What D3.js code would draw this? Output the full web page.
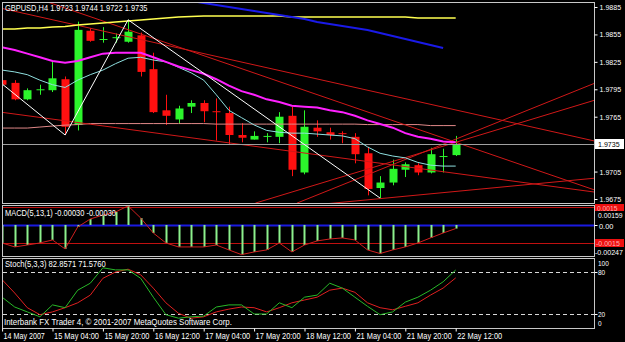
<!DOCTYPE html>
<html>
<head>
<meta charset="utf-8">
<script src="https://cdn.jsdelivr.net/npm/d3@7"></script>
<style>
body { margin: 0; background: #000; }
svg { display: block; font-family: "Liberation Sans", Arial, sans-serif; }
</style>
</head>
<body>
<svg id="chart" width="625" height="342"></svg>
<script>
// GBPUSD H4 candles, 14 May 12:00 .. 22 May 12:00
var opens  = [1.9805,1.9802,1.9784,1.9794,1.9794,1.9806,1.9756,1.9859,1.9849,1.9851,1.9847,1.9854,1.9817,1.9772,1.9762,1.9776,1.9780,1.9771,1.9769,1.9745,1.9740,1.9743,1.9743,1.9766,1.9704,1.9753,1.9748,1.9747,1.9743,1.9725,1.9687,1.9693,1.9707,1.9712,1.9704,1.9721,1.9723];
var highs  = [1.9807,1.9805,1.9796,1.9800,1.9825,1.9809,1.9869,1.9862,1.9863,1.9856,1.9871,1.9857,1.9835,1.9789,1.9777,1.9783,1.9783,1.9785,1.9776,1.9758,1.9749,1.9747,1.9770,1.9776,1.9772,1.9761,1.9753,1.9749,1.9747,1.9732,1.9700,1.9718,1.9715,1.9714,1.9731,1.9730,1.9744];
var lows   = [1.9797,1.9783,1.9783,1.9789,1.9792,1.9745,1.9750,1.9847,1.9846,1.9846,1.9846,1.9809,1.9769,1.9756,1.9757,1.9769,1.9759,1.9739,1.9734,1.9737,1.9740,1.9737,1.9736,1.9700,1.9702,1.9743,1.9740,1.9736,1.9714,1.9679,1.9676,1.9690,1.9699,1.9701,1.9703,1.9704,1.9722];
var closes = [1.9800,1.9784,1.9794,1.9795,1.9807,1.9754,1.9860,1.9848,1.9850,1.9852,1.9858,1.9814,1.9770,1.9766,1.9774,1.9780,1.9771,1.9770,1.9745,1.9742,1.9744,1.9744,1.9765,1.9707,1.9754,1.9749,1.9745,1.9746,1.9724,1.9686,1.9693,1.9708,1.9713,1.9704,1.9724,1.9722,1.9735];

// moving averages on the price window
var maYellow  = [1.98609,1.98609,1.98620,1.98620,1.98631,1.98636,1.98653,1.98664,1.98675,1.98686,1.98697,1.98708,1.98719,1.98730,1.98741,1.98746,1.98751,1.98751,1.98751,1.98751,1.98751,1.98751,1.98751,1.98741,1.98741,1.98741,1.98741,1.98741,1.98741,1.98741,1.98741,1.98741,1.98741,1.98730,1.98730,1.98730,1.98730];
var maBlueStart = 13;
var maBlue    = [1.99000,1.98938,1.98916,1.98894,1.98872,1.98850,1.98828,1.98806,1.98784,1.98762,1.98740,1.98719,1.98686,1.98664,1.98642,1.98620,1.98598,1.98565,1.98532,1.98500,1.98467,1.98434,1.98401];
var maMagenta = [1.9841,1.9838,1.9834,1.9830,1.9826,1.9824,1.9826,1.9830,1.9834,1.9835,1.9835,1.9835,1.9830,1.9825,1.9820,1.9816,1.9812,1.9806,1.9799,1.9793,1.9789,1.9784,1.9781,1.9777,1.9776,1.9775,1.9772,1.9770,1.9766,1.9761,1.9757,1.9753,1.9747,1.9743,1.9741,1.9738,1.9737];
var maCyan    = [1.9816,1.9814,1.9811,1.9805,1.9800,1.9797,1.9805,1.9811,1.9816,1.9823,1.9829,1.9830,1.9827,1.9825,1.9819,1.9813,1.9805,1.9789,1.9772,1.9764,1.9756,1.9750,1.9748,1.9747,1.9747,1.9746,1.9745,1.9744,1.9741,1.9732,1.9725,1.9722,1.9720,1.9715,1.9712,1.9711,1.9711];
var maPink    = [1.97526,1.97526,1.97526,1.97537,1.97548,1.97558,1.97564,1.97575,1.97575,1.97575,1.97575,1.97575,1.97575,1.97575,1.97575,1.97575,1.97575,1.97569,1.97569,1.97569,1.97569,1.97569,1.97569,1.97569,1.97569,1.97569,1.97569,1.97569,1.97569,1.97564,1.97564,1.97564,1.97564,1.97564,1.97553,1.97553,1.97553];

// zigzag turning points (bar index, price)
var zigzagIdx   = [-1, 5, 10, 30];
var zigzagPrice = [1.9812, 1.9745, 1.9871, 1.9676];

// drawn trend lines: [idx1, price1, idx2, price2]
var trendLines = [
  [-0.17, 1.98839, 47.06, 1.97383],
  [2.21, 1.98971, 47.06, 1.96847],
  [-0.17, 1.97701, 47.06, 1.96825],
  [23.4, 1.96705, 47.06, 1.98018],
  [20.1, 1.96705, 47.06, 1.97832],
  [23.6, 1.96670, 47.06, 1.96978]
];

var bidPrice = 1.9735;
var priceTicks = [1.9675, 1.9705, 1.9765, 1.9795, 1.9825, 1.9855, 1.9885];

// MACD(5,13,1)
var macdValues = [-0.0015,-0.00183,-0.00167,-0.0015,-0.00125,-0.002,-0.00017,0.0005,0.00083,0.00108,0.00159,0.00058,-0.00067,-0.0015,-0.00183,-0.00183,-0.00183,-0.00167,-0.00208,-0.00247,-0.00225,-0.00208,-0.0015,-0.00225,-0.00167,-0.00133,-0.00117,-0.00108,-0.00125,-0.00208,-0.00238,-0.00208,-0.00183,-0.0015,-0.00108,-0.00067,-0.0003];
var macdLevels = [0.0015, -0.0015];

// Stochastic(5,3,3)
var stochMain   = [44,30,23,16,33,29,54,64,86,83,83,71,44,19,14,16,17,30,33,33,20,20,36,29,44,47,64,57,44,31,19,23,37,44,54,66,82.8571];
var stochSignal = [69,50,29,19,23,29,36,47,71,80,84,76,57,36,21,14,16,23,27,30,29,23,29,36,40,44,54,57,51,36,29,26,31,36,47,57,71.576];
var stochLevels = [80, 20];
var stochTicks = [100, 80, 20, 0];

var timeIdx    = [0, 4, 8, 12, 16, 20, 24, 28, 32, 36];
var timeLabels = ["14 May 2007","15 May 04:00","15 May 20:00","16 May 12:00","17 May 04:00","17 May 20:00","18 May 12:00","21 May 04:00","21 May 20:00","22 May 12:00"];

var svg = d3.select('#chart');
svg.append('rect').attr('width', 625).attr('height', 342).attr('fill', 'black');

var x = d3.scaleLinear().domain([0, 36]).range([2.1, 455.7]);
var y = d3.scaleLinear().domain([1.9675, 1.9885]).range([199, 7]);
var yMacd = d3.scaleLinear().domain([-0.00247, 0.00159]).range([254.6, 205.9]);
var yStoch = d3.scaleLinear().domain([0, 100]).range([328, 258]);

var defs = svg.append('defs');
function clip(id, y0, h) {
  defs.append('clipPath').attr('id', id).append('rect')
    .attr('x', 3).attr('y', y0).attr('width', 591).attr('height', h);
}
clip('cMain', 3, 200);
clip('cMacd', 206, 50);
clip('cStoch', 259, 69);

// squeeze text to the narrow terminal font
function fit(sel, perChar) {
  sel.attr('textLength', function() { return this.textContent.length * perChar; })
    .attr('lengthAdjust', 'spacingAndGlyphs');
}

// ---- main window
var main = svg.append('g').attr('clip-path', 'url(#cMain)');

var candles = d3.range(opens.length).map(function(i) {
  return {i: i, o: opens[i], h: highs[i], l: lows[i], c: closes[i]};
});
function col(d) { return d.c >= d.o ? '#2cf52c' : '#ff1010'; }

main.selectAll('line.wick').data(candles).enter().append('line')
  .attr('x1', function(d) { return Math.round(x(d.i)) + 0.5; })
  .attr('x2', function(d) { return Math.round(x(d.i)) + 0.5; })
  .attr('y1', function(d) { return y(d.h); })
  .attr('y2', function(d) { return y(d.l); })
  .attr('stroke', col).attr('stroke-width', 1);

main.selectAll('rect.body').data(candles).enter().append('rect')
  .attr('x', function(d) { return Math.round(x(d.i)) - 3.5; })
  .attr('width', 8)
  .attr('y', function(d) { return y(Math.max(d.o, d.c)); })
  .attr('height', function(d) { return Math.max(1, Math.abs(y(d.o) - y(d.c))); })
  .attr('fill', col);

var line = d3.line().x(function(d) { return x(d[0]); }).y(function(d) { return y(d[1]); });
function series(vals, start) {
  return vals.map(function(v, k) { return [k + (start || 0), v]; });
}

main.append('path').attr('d', line(series(maPink))).attr('fill', 'none')
  .attr('stroke', '#e08888').attr('stroke-width', 1);

trendLines.forEach(function(t) {
  main.append('line')
    .attr('x1', x(t[0])).attr('y1', y(t[1]))
    .attr('x2', x(t[2])).attr('y2', y(t[3]))
    .attr('stroke', '#d01818').attr('stroke-width', 1);
});

main.append('line').attr('x1', 3).attr('x2', 594)
  .attr('y1', Math.round(y(bidPrice)) + 0.5).attr('y2', Math.round(y(bidPrice)) + 0.5)
  .attr('stroke', '#a0a0a0').attr('stroke-width', 1);

main.append('path').attr('d', line(series(maCyan))).attr('fill', 'none')
  .attr('stroke', '#8fe0e0').attr('stroke-width', 1);
main.append('path').attr('d', line(series(maMagenta))).attr('fill', 'none')
  .attr('stroke', '#ff20ff').attr('stroke-width', 2);
main.append('path').attr('d', line(series(maYellow))).attr('fill', 'none')
  .attr('stroke', '#ffff50').attr('stroke-width', 1.5);
main.append('path').attr('d', line(series(maBlue, maBlueStart))).attr('fill', 'none')
  .attr('stroke', '#1a1ae8').attr('stroke-width', 2);

main.append('path')
  .attr('d', line(zigzagIdx.map(function(d, k) { return [d, zigzagPrice[k]]; })))
  .attr('fill', 'none').attr('stroke', '#ffffff').attr('stroke-width', 1);

// ---- MACD window
var macd = svg.append('g').attr('clip-path', 'url(#cMacd)');
macdLevels.forEach(function(v) {
  macd.append('line').attr('x1', 3).attr('x2', 594)
    .attr('y1', Math.round(yMacd(v)) + 0.5).attr('y2', Math.round(yMacd(v)) + 0.5)
    .attr('stroke', '#c01010');
});
macd.append('line').attr('x1', 3).attr('x2', 594)
  .attr('y1', Math.round(yMacd(0)) + 0.5).attr('y2', Math.round(yMacd(0)) + 0.5)
  .attr('stroke', '#1a1ae0').attr('stroke-width', 2);
macd.selectAll('rect.hist').data(macdValues).enter().append('rect')
  .attr('x', function(d, i) { return Math.round(x(i)) - 0.5; })
  .attr('width', 2)
  .attr('y', function(d) { return Math.min(yMacd(0), yMacd(d)); })
  .attr('height', function(d) { return Math.abs(yMacd(0) - yMacd(d)); })
  .attr('fill', '#8cf08c');
macd.append('path')
  .attr('d', d3.line().x(function(d, i) { return x(i); }).y(function(d) { return yMacd(d); })(macdValues))
  .attr('fill', 'none').attr('stroke', '#d02020').attr('stroke-width', 1);

// ---- Stochastic window
var stoch = svg.append('g').attr('clip-path', 'url(#cStoch)');
stochLevels.forEach(function(v) {
  stoch.append('line').attr('x1', 3).attr('x2', 594)
    .attr('y1', Math.round(yStoch(v)) + 0.5).attr('y2', Math.round(yStoch(v)) + 0.5)
    .attr('stroke', '#d8d8d8').attr('stroke-dasharray', '4,3');
});
var sline = d3.line().x(function(d, i) { return x(i); }).y(function(d) { return yStoch(d); });
stoch.append('path').attr('d', sline(stochSignal)).attr('fill', 'none')
  .attr('stroke', '#e02020').attr('stroke-width', 1);
stoch.append('path').attr('d', sline(stochMain)).attr('fill', 'none')
  .attr('stroke', '#28b828').attr('stroke-width', 1);

// ---- window frames
[[2.5, 201], [205.5, 51], [258.5, 70]].forEach(function(f) {
  svg.append('rect').attr('x', 2.5).attr('y', f[0]).attr('width', 592).attr('height', f[1])
    .attr('fill', 'none').attr('stroke', '#c8c8c8').attr('stroke-width', 1);
});

var FS = 8;

// ---- price axis
var pAxis = svg.append('g').attr('transform', 'translate(594.5,0)')
  .call(d3.axisRight(y).tickValues(priceTicks).tickSize(3).tickFormat(d3.format('.4f')));
pAxis.select('.domain').remove();
pAxis.selectAll('line').attr('stroke', '#ffffff');
pAxis.selectAll('text').attr('fill', '#ffffff').attr('x', 5).attr('font-size', FS)
  .attr('font-family', '"Liberation Sans", Arial, sans-serif').call(fit, 3.6);

var bidY = Math.round(y(bidPrice));
svg.append('rect').attr('x', 595).attr('y', bidY - 5).attr('width', 29).attr('height', 10).attr('fill', '#ffffff');
svg.append('text').attr('x', 598).attr('y', bidY + 3).attr('font-size', FS).attr('fill', '#000')
  .text(d3.format('.4f')(bidPrice)).call(fit, 3.6);

// ---- MACD axis labels
svg.append('rect').attr('x', 595).attr('y', 204).attr('width', 29).attr('height', 7).attr('fill', '#ee1010');
svg.append('text').attr('x', 597).attr('y', 210.5).attr('font-size', 7).attr('fill', '#ffb0b0')
  .text('0.0015').call(fit, 3.4);
svg.append('text').attr('x', 598).attr('y', 218).attr('font-size', 7).attr('fill', '#fff')
  .text('0.00159').call(fit, 3.5);
svg.append('rect').attr('x', 595).attr('y', 239).attr('width', 29).attr('height', 8).attr('fill', '#ee1010');
svg.append('text').attr('x', 596).attr('y', 245.5).attr('font-size', 7).attr('fill', '#ffb0b0')
  .text('-0.0015').call(fit, 3.4);
svg.append('line').attr('x1', 594.5).attr('x2', 597.5).attr('y1', 225.5).attr('y2', 225.5).attr('stroke', '#fff');
svg.append('text').attr('x', 599).attr('y', 228.5).attr('font-size', FS).attr('fill', '#fff').text('0.00').call(fit, 3.6);
svg.append('text').attr('x', 595).attr('y', 255).attr('font-size', 7).attr('fill', '#fff').text('-0.00247').call(fit, 3.5);

// ---- Stoch axis labels
svg.selectAll('text.st').data(stochTicks).enter().append('text')
  .attr('x', 598)
  .attr('y', function(d) { return d === 100 ? 266 : d === 0 ? 326 : yStoch(d) + 3; })
  .attr('font-size', FS).attr('fill', '#fff')
  .text(function(d) { return d; }).call(fit, 3.6);
stochLevels.forEach(function(v) {
  svg.append('line').attr('x1', 594.5).attr('x2', 597.5)
    .attr('y1', Math.round(yStoch(v)) + 0.5).attr('y2', Math.round(yStoch(v)) + 0.5).attr('stroke', '#fff');
});

// ---- time axis
var tAxis = svg.append('g').attr('transform', 'translate(0,328.5)')
  .call(d3.axisBottom(x).tickValues(timeIdx).tickSize(3)
    .tickFormat(function(d, i) { return timeLabels[i]; }));
tAxis.select('.domain').remove();
tAxis.selectAll('line').attr('stroke', '#ffffff');
tAxis.selectAll('text').attr('fill', '#ffffff').attr('text-anchor', 'start')
  .attr('x', 1).attr('y', 4).attr('font-size', 9)
  .attr('font-family', '"Liberation Sans", Arial, sans-serif').call(fit, 3.75);

// ---- window titles
svg.append('text').attr('x', 5).attr('y', 11).attr('font-size', 9).attr('fill', '#fff')
  .text('GBPUSD,H4  1.9723 1.9744 1.9722 1.9735').call(fit, 3.75);
svg.append('text').attr('x', 5).attr('y', 216).attr('font-size', 9).attr('fill', '#fff')
  .text('MACD(5,13,1) -0.00030 -0.00030').call(fit, 3.7);
svg.append('text').attr('x', 5).attr('y', 267).attr('font-size', 9).attr('fill', '#fff')
  .text('Stoch(5,3,3) 82.8571 71.5760').call(fit, 3.6);
svg.append('text').attr('x', 4).attr('y', 325).attr('font-size', 9).attr('fill', '#fff')
  .text('Interbank FX Trader 4, \u00a9 2001-2007 MetaQuotes Software Corp.').call(fit, 3.8);
</script>
</body>
</html>
